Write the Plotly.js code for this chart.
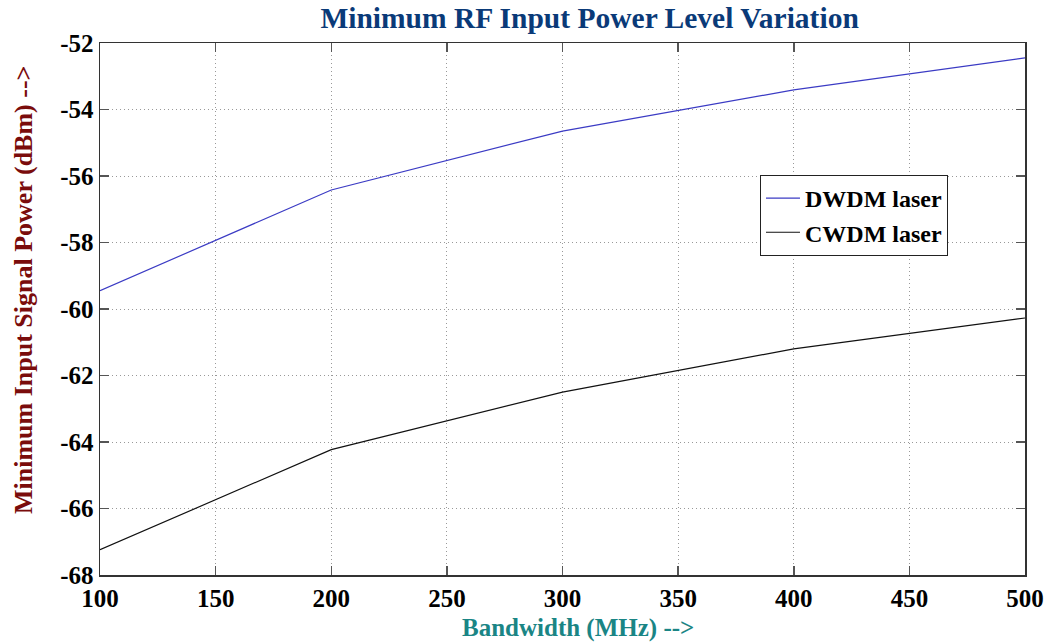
<!DOCTYPE html>
<html>
<head>
<meta charset="utf-8">
<script src="https://cdn.plot.ly/plotly-3.0.1.min.js"></script>
<style>html,body{margin:0;padding:0;background:#fff}#chart{width:1051px;height:643px}</style>
</head>
<body>
<div id="chart"></div>
<script>
// Bandwidth values (MHz) and minimum required RF input power (dBm)
const bandwidth = [100, 200, 300, 400, 500];
const dwdmPower = [-59.45, -56.42, -54.65, -53.41, -52.45];
const cwdmPower = [-67.24, -64.23, -62.5, -61.2, -60.27];
const xTicks = [100, 150, 200, 250, 300, 350, 400, 450, 500];
const yTicks = [-68, -66, -64, -62, -60, -58, -56, -54, -52];
// plain hyphen labels for the y ticks
const yTickText = yTicks.map(v => String(v));

const serif = "'Liberation Serif', 'Times New Roman', serif";

const traces = [
  {x: bandwidth, y: dwdmPower, name: "DWDM laser", mode: "lines",
   line: {color: "#3b3bc4", width: 1.2}},
  {x: bandwidth, y: cwdmPower, name: "CWDM laser", mode: "lines",
   line: {color: "#111111", width: 1.2}}
];

const axisCommon = {
  showline: true, mirror: "ticks", linecolor: "#333", linewidth: 1.5,
  ticks: "inside", ticklen: 9, tickcolor: "#555", tickwidth: 1.5,
  showgrid: true, gridcolor: "#999", griddash: "1px,3px", gridwidth: 1,
  zeroline: false,
  tickfont: {family: serif, size: 25, color: "#000", weight: "bold"}
};

const layout = {
  width: 1051, height: 643,
  margin: {l: 100, r: 26, t: 43, b: 68},
  paper_bgcolor: "#fff", plot_bgcolor: "#fff",
  title: {text: "Minimum RF Input Power Level Variation",
          font: {family: serif, size: 29.5, color: "#0a3a78", weight: "bold"},
          x: 0.561, xanchor: "center", y: 0.972, yanchor: "middle"},
  xaxis: Object.assign({}, axisCommon, {range: [100, 500], tickvals: xTicks}),
  yaxis: Object.assign({}, axisCommon, {
    range: [-68, -52], tickvals: yTicks, ticktext: yTickText, ticklabelstandoff: 0
  }),
  annotations: [
    {text: "Bandwidth (MHz) -->", xref: "paper", yref: "paper",
     x: 0.5168, y: -0.0996, xanchor: "center", yanchor: "middle", showarrow: false,
     font: {family: serif, size: 25, color: "#1a8585", weight: "bold"}},
    {text: "Minimum Input Signal Power (dBm) -->", xref: "paper", yref: "paper",
     x: -0.0832, y: 0.5357, xanchor: "center", yanchor: "middle", showarrow: false,
     textangle: -90,
     font: {family: serif, size: 26, color: "#7a0c0c", weight: "bold"}}
  ],
  showlegend: true,
  legend: {x: 0.7135, y: 0.752, xanchor: "left", yanchor: "top",
           bgcolor: "#fff", bordercolor: "#222", borderwidth: 1,
           font: {family: serif, size: 24, color: "#000", weight: "bold"},
           tracegroupgap: 0, itemwidth: 34}
};

Plotly.newPlot("chart", traces, layout, {displayModeBar: false, staticPlot: true});
</script>
</body>
</html>
